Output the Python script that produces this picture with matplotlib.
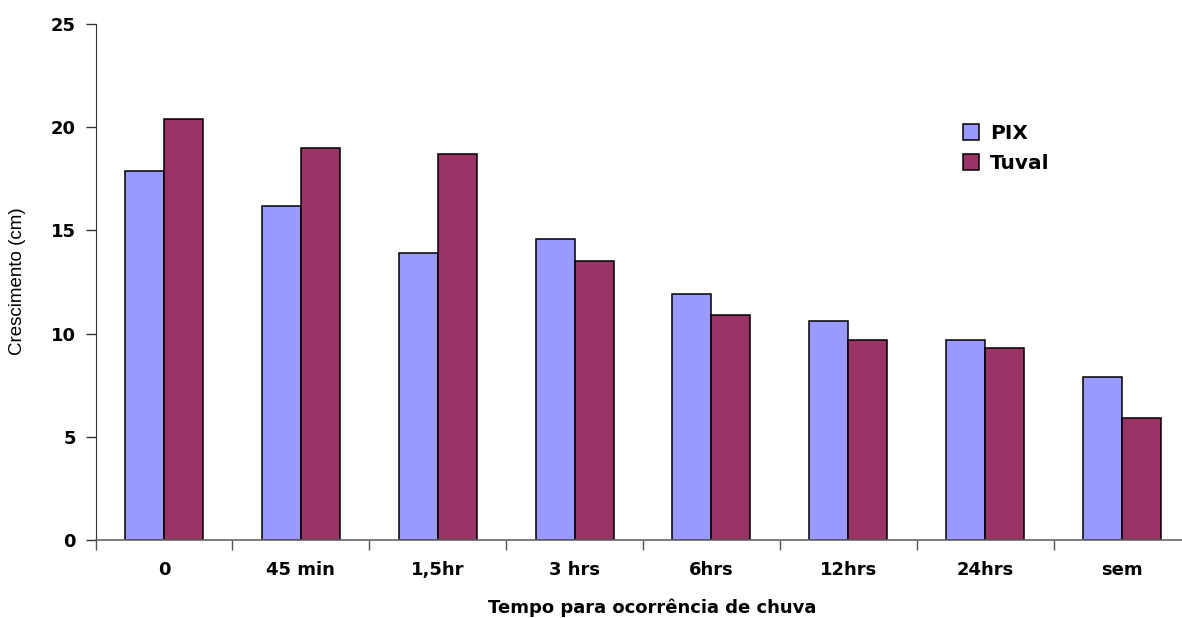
import matplotlib
matplotlib.use("Agg")
import matplotlib.pyplot as plt
import numpy as np

# dados
categorias = ["0", "45 min", "1,5hr", "3 hrs", "6hrs", "12hrs", "24hrs", "sem"]
pix = [17.9, 16.2, 13.9, 14.6, 11.9, 10.6, 9.7, 7.9]
tuval = [20.4, 19.0, 18.7, 13.5, 10.9, 9.7, 9.3, 5.9]

plt.rcParams['font.family'] = ['DejaVu Sans']

fig = plt.figure(figsize=(11.82, 6.18), dpi=100)
# o eixo continua além da borda direita da figura
ax = fig.add_axes([95.5 / 1182, 78 / 618, 1095 / 1182, 516 / 618])

x = np.arange(len(categorias))
w = 0.285
ax.bar(x - w / 2, pix, w, color='#9999FF', edgecolor='black', linewidth=1.1, label='PIX')
ax.bar(x + w / 2, tuval, w, color='#993366', edgecolor='black', linewidth=1.1, label='Tuval')

ax.set_xlim(-0.5, len(categorias) - 0.5)
ax.set_ylim(0, 25)
ax.set_yticks([0, 5, 10, 15, 20, 25])
ax.tick_params(axis='y', direction='out', length=7, width=1, color='#333333',
               labelsize=13, pad=7)
for t in ax.get_yticklabels():
    t.set_fontweight('bold')

# marcas entre categorias, rótulos no centro
ax.set_xticks(np.arange(len(categorias) + 1) - 0.5)
ax.set_xticklabels([])
ax.set_xticks(x, minor=True)
ax.set_xticklabels(categorias, minor=True, fontsize=13, fontweight='bold')
ax.tick_params(axis='x', which='major', direction='out', length=7, width=1, color='#555555')
ax.tick_params(axis='x', which='minor', length=0, pad=15)

for s in ['top', 'right']:
    ax.spines[s].set_visible(False)
ax.spines['left'].set_color('#333333')
ax.spines['bottom'].set_color('#666666')
ax.spines['bottom'].set_linewidth(1.2)

fig.text(652 / 1182, 1 - 608 / 618, "Tempo para ocorrência de chuva",
         ha='center', va='center', fontsize=13, fontweight='bold')
fig.text(18 / 1182, 1 - 281 / 618, "Crescimento (cm)", rotation=90,
         ha='center', va='center', fontsize=13.5,
         family=['Liberation Sans Narrow', 'Liberation Sans', 'DejaVu Sans'])

ax.legend(loc='upper left', bbox_to_anchor=(963 / 1182, 1 - 124 / 618),
          bbox_transform=fig.transFigure, frameon=False, borderpad=0, borderaxespad=0,
          prop={'size': 14.5, 'weight': 'bold'},
          handlelength=0.8, handleheight=0.8, handletextpad=0.55, labelspacing=0.55)

fig.savefig("out.png", dpi=100)
